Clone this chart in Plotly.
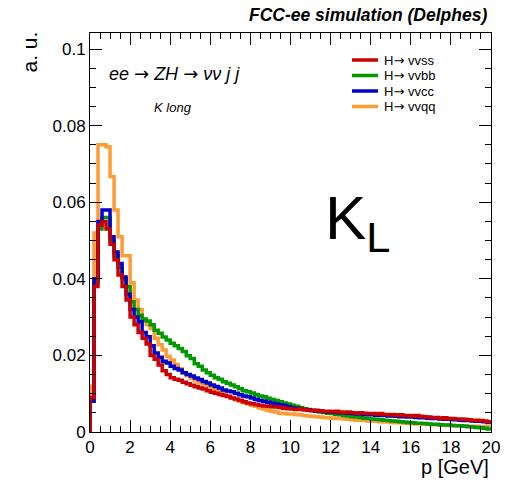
import plotly.graph_objects as go

# ---------------- data ----------------
BIN_WIDTH = 0.2
N_BINS = 100
BIN_EDGES = [round(BIN_WIDTH * i, 1) for i in range(N_BINS + 1)]

ARROW = '<span style="font-family:DejaVu Sans">\u2192</span>'
NAMES = ["H" + ARROW + " vvss", "H" + ARROW + " vvbb", "H" + ARROW + " vvcc", "H" + ARROW + " vvqq"]
COLORS = ["#cc0000", "#009a00", "#0000cc", "#ff9c33"]

vvss = [0.009, 0.038, 0.054, 0.055, 0.053, 0.049, 0.045, 0.041, 0.038, 0.0345,
        0.030, 0.028, 0.026, 0.0245, 0.023, 0.020, 0.019, 0.0175, 0.016, 0.015,
        0.0142, 0.0138, 0.0135, 0.013, 0.0126, 0.0122, 0.0118, 0.0115, 0.0112, 0.0108,
        0.0104, 0.0101, 0.0098, 0.0095, 0.0093, 0.0089, 0.0086, 0.0083, 0.0079, 0.0076,
        0.0074, 0.0072, 0.0070, 0.0068, 0.0067, 0.0066, 0.0065, 0.0064, 0.0062, 0.0061,
        0.0060, 0.0059, 0.0060, 0.0058, 0.0057, 0.0056, 0.0057, 0.0055, 0.0054, 0.0054,
        0.0053, 0.0054, 0.0052, 0.0051, 0.0052, 0.0050, 0.0049, 0.0050, 0.0049, 0.0048,
        0.0048, 0.0047, 0.0048, 0.0046, 0.0045, 0.0046, 0.0044, 0.0045, 0.0043, 0.0043,
        0.0042, 0.0043, 0.0041, 0.0040, 0.0039, 0.0038, 0.0038, 0.0036, 0.0037, 0.0035,
        0.0035, 0.0034, 0.0034, 0.0033, 0.0032, 0.0031, 0.0031, 0.0030, 0.0029, 0.0027]

vvbb = [0.008, 0.039, 0.053, 0.056, 0.056, 0.050, 0.046, 0.043, 0.040, 0.038,
        0.034, 0.032, 0.0305, 0.0295, 0.029, 0.028, 0.0266, 0.0258, 0.0248, 0.024,
        0.0232, 0.0225, 0.0218, 0.021, 0.0199, 0.0192, 0.0178, 0.0172, 0.0162, 0.0155,
        0.0148, 0.0142, 0.0138, 0.0131, 0.0127, 0.0123, 0.0118, 0.0113, 0.0108, 0.0105,
        0.0102, 0.0098, 0.0094, 0.0092, 0.0088, 0.0085, 0.0082, 0.0079, 0.0076, 0.0073,
        0.0070, 0.0067, 0.0064, 0.0061, 0.0059, 0.0056, 0.0054, 0.0052, 0.0051, 0.0049,
        0.0048, 0.0046, 0.0045, 0.0043, 0.0042, 0.0040, 0.0039, 0.0038, 0.0036, 0.0035,
        0.0034, 0.0033, 0.0032, 0.0031, 0.0030, 0.0029, 0.0028, 0.0027, 0.0026, 0.0025,
        0.0024, 0.0023, 0.0023, 0.0022, 0.0021, 0.0020, 0.0020, 0.0019, 0.0018, 0.0018,
        0.0017, 0.0016, 0.0016, 0.0015, 0.0014, 0.0013, 0.0012, 0.0011, 0.0010, 0.0008]

vvcc = [0.008, 0.040, 0.055, 0.058, 0.058, 0.051, 0.047, 0.044, 0.0405, 0.036,
        0.032, 0.030, 0.0288, 0.026, 0.0249, 0.0225, 0.0206, 0.0195, 0.0185, 0.018,
        0.0172, 0.0166, 0.0162, 0.0155, 0.015, 0.0146, 0.0141, 0.0137, 0.0132, 0.0128,
        0.0123, 0.0119, 0.0115, 0.011, 0.0107, 0.0105, 0.0101, 0.0097, 0.0094, 0.0092,
        0.0089, 0.0085, 0.0082, 0.0080, 0.0078, 0.0075, 0.0073, 0.0071, 0.0069, 0.0066,
        0.0063, 0.0062, 0.0060, 0.0059, 0.0058, 0.0056, 0.0055, 0.0055, 0.0053, 0.0052,
        0.0052, 0.0051, 0.0050, 0.0050, 0.0049, 0.0048, 0.0047, 0.0047, 0.0046, 0.0045,
        0.0045, 0.0044, 0.0044, 0.0043, 0.0042, 0.0042, 0.0041, 0.0040, 0.0040, 0.0039,
        0.0039, 0.0038, 0.0037, 0.0037, 0.0036, 0.0035, 0.0035, 0.0034, 0.0033, 0.0033,
        0.0032, 0.0032, 0.0031, 0.0030, 0.0030, 0.0029, 0.0028, 0.0028, 0.0027, 0.0025]

vvqq = [0.012, 0.052, 0.075, 0.075, 0.0745, 0.0667, 0.058, 0.051, 0.046, 0.046,
        0.039, 0.0345, 0.032, 0.029, 0.028, 0.027, 0.0245, 0.0228, 0.0214, 0.0198,
        0.0188, 0.0176, 0.0165, 0.0155, 0.0147, 0.0140, 0.0134, 0.0128, 0.0123, 0.0118,
        0.0113, 0.0109, 0.0105, 0.0099, 0.0094, 0.0090, 0.0084, 0.0081, 0.0077, 0.0074,
        0.0070, 0.0067, 0.0063, 0.0060, 0.0057, 0.0054, 0.0052, 0.0049, 0.0048, 0.0047,
        0.0047, 0.0046, 0.0045, 0.0043, 0.0042, 0.0041, 0.0040, 0.0039, 0.0038, 0.0037,
        0.0036, 0.0035, 0.0035, 0.0034, 0.0033, 0.0032, 0.0031, 0.0031, 0.0030, 0.0029,
        0.0028, 0.0028, 0.0027, 0.0026, 0.0026, 0.0025, 0.0024, 0.0024, 0.0023, 0.0022,
        0.0022, 0.0021, 0.0021, 0.0020, 0.0020, 0.0019, 0.0019, 0.0018, 0.0018, 0.0017,
        0.0017, 0.0016, 0.0016, 0.0016, 0.0015, 0.0015, 0.0015, 0.0014, 0.0014, 0.0014]

SERIES = [vvss, vvbb, vvcc, vvqq]
DRAW_ORDER = [3, 1, 2, 0]  # orange, green, blue, red on top

X_TICKS = list(range(0, 21, 2))
Y_TICKS = [0, 0.02, 0.04, 0.06, 0.08, 0.1]
Y_TICK_TEXT = ["0", "0.02", "0.04", "0.06", "0.08", "0.1"]

# ---------------- figure ----------------
FONT = "Liberation Sans, Arial, Helvetica, sans-serif"
W, H = 505, 483
L, R, T, B = 90, 14, 33, 51
PW, PH = W - L - R, H - T - B


def px(xpix):
    return (xpix - L) / PW


def py(ypix):
    return (H - B - ypix) / PH


fig = go.Figure()
for k in DRAW_ORDER:
    vals = SERIES[k]
    xs = [BIN_EDGES[0]] + BIN_EDGES[:-1] + [BIN_EDGES[-1]]
    ys = [0] + vals + [vals[-1]]
    fig.add_trace(go.Scatter(
        x=xs, y=ys, mode="lines", name=NAMES[k],
        line=dict(color=COLORS[k], width=3.5, shape="hv"),
        showlegend=False,
    ))

axis_common = dict(
    showline=True, linecolor="black", linewidth=1, mirror="allticks",
    ticks="inside", ticklen=12, tickcolor="black", tickwidth=1,
    showgrid=False, zeroline=False, automargin=False,
    tickfont=dict(family=FONT, size=17, color="black"),
)

fig.update_xaxes(range=[0, 20], tickvals=X_TICKS,
                 minor=dict(dtick=0.5, ticks="inside", ticklen=6, tickcolor="black", showgrid=False),
                 **axis_common)
fig.update_yaxes(range=[0, 0.1042], tickvals=Y_TICKS, ticktext=Y_TICK_TEXT,
                 minor=dict(dtick=0.005, ticks="inside", ticklen=6, tickcolor="black", showgrid=False),
                 **axis_common)

annotations = [
    dict(text="<b><i>FCC-ee simulation (Delphes)</i></b>", x=px(489), y=py(15),
         xanchor="right", yanchor="middle", font=dict(family=FONT, size=17.5, color="black")),
    dict(text="a. u.", x=px(29), y=py(30), textangle=-90,
         xanchor="center", yanchor="top", font=dict(family=FONT, size=21, color="black")),
    dict(text="p [GeV]", x=px(491), y=py(467),
         xanchor="right", yanchor="middle", font=dict(family=FONT, size=20, color="black")),
    dict(text="<i>ee " + ARROW + " ZH " + ARROW + " \u03bd\u03bd j j</i>", x=px(107), y=py(73),
         xanchor="left", yanchor="middle", font=dict(family=FONT, size=18, color="black")),
    dict(text="<i>K long</i>", x=px(152), y=py(107),
         xanchor="left", yanchor="middle", font=dict(family=FONT, size=13, color="black")),
    dict(text="K<sub>L</sub>", x=px(323), y=py(222),
         xanchor="left", yanchor="middle", font=dict(family=FONT, size=62, color="black")),
]

shapes = []
LEG_ROWS = [60, 75.5, 91, 106.5]
for i, (name, color) in enumerate(zip(NAMES, COLORS)):
    yc = LEG_ROWS[i]
    shapes.append(dict(type="line", xref="paper", yref="paper",
                       x0=px(352), x1=px(378), y0=py(yc), y1=py(yc),
                       line=dict(color=color, width=3.5)))
    annotations.append(dict(text=name, x=px(382), y=py(yc), xanchor="left", yanchor="middle",
                            font=dict(family=FONT, size=13, color="black")))

for a in annotations:
    a.update(xref="paper", yref="paper", showarrow=False)

fig.update_layout(
    width=W, height=H,
    margin=dict(l=L, r=R, t=T, b=B),
    plot_bgcolor="white", paper_bgcolor="white",
    annotations=annotations, shapes=shapes,
    showlegend=False,
)

fig.write_html("out.html")
